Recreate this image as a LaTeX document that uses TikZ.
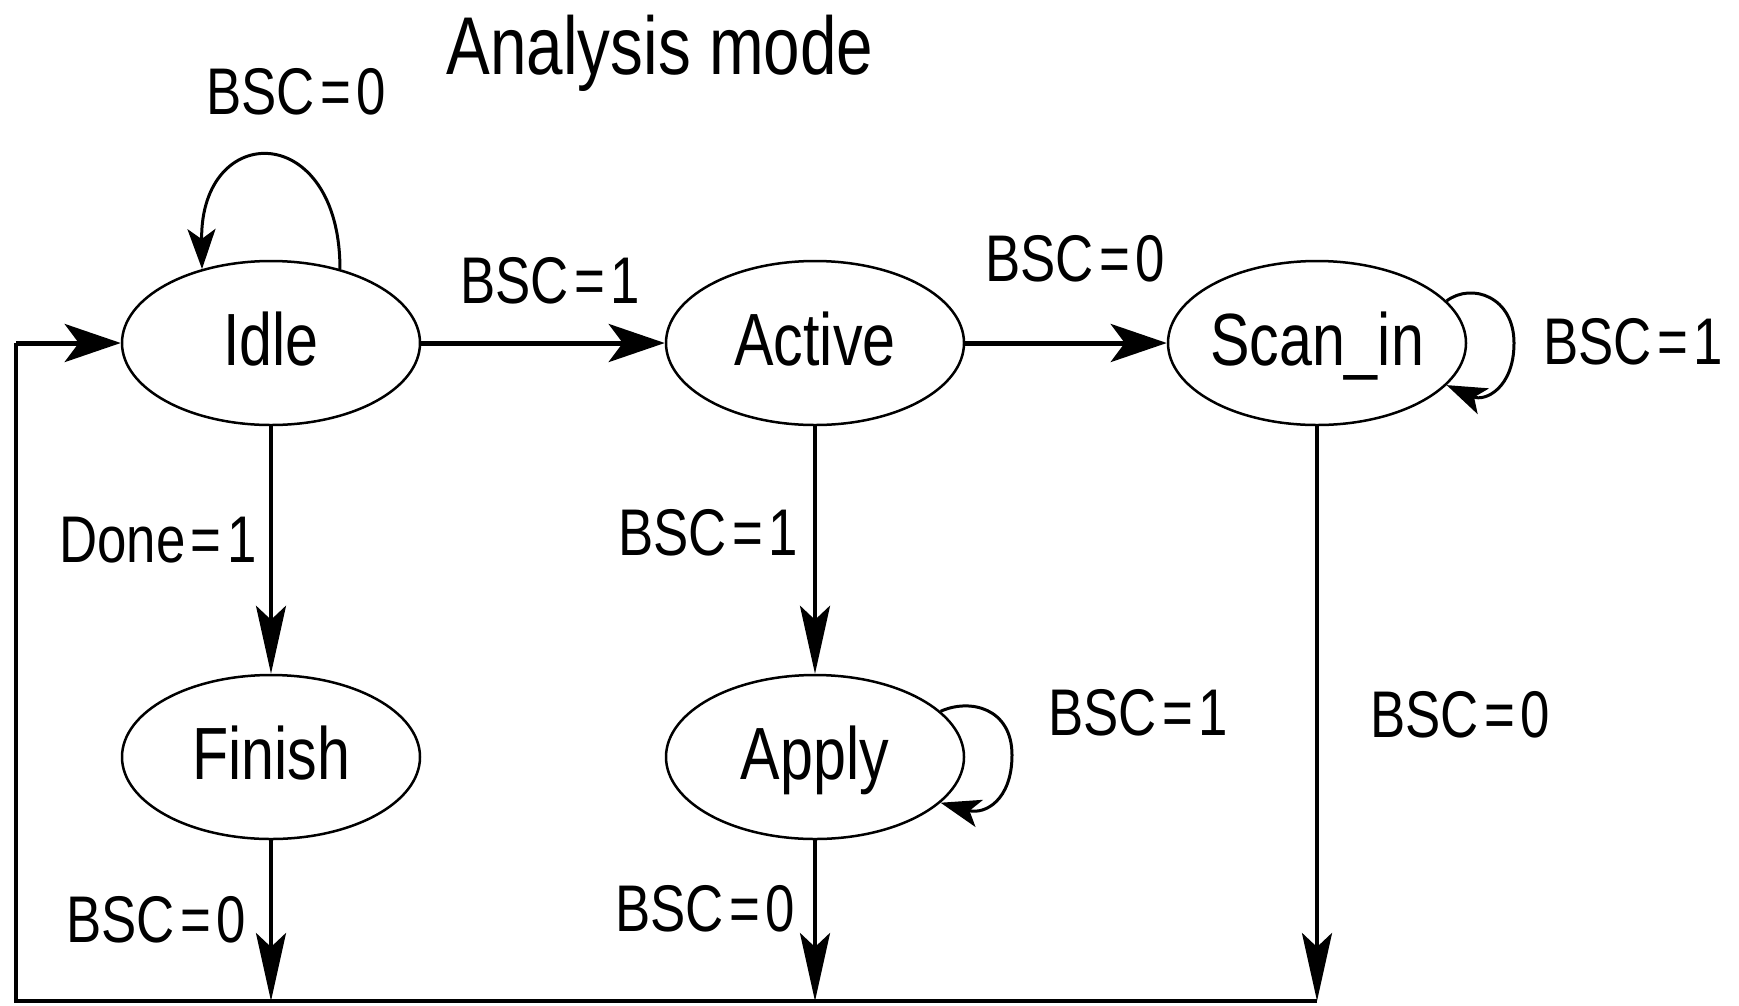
\documentclass[tikz,border=0pt]{standalone}
\usepackage{fontspec}
\setmainfont[FakeStretch=0.8]{Liberation Sans}
\usetikzlibrary{arrows.meta,shapes.geometric}
\newcommand{\zw}[1]{\makebox[0pt]{#1}}
\newcommand{\eq}{\kern5.5pt=\kern5.5pt}
\begin{document}
\begin{tikzpicture}[x=1pt,y=-1pt,
  state/.style={ellipse, draw, line width=2.5pt, minimum width=298pt,
    minimum height=164pt, inner sep=0pt, text height=55pt, text depth=11pt,
    font=\fontsize{74}{80}\selectfont},
  cond/.style={inner sep=0pt, font=\fontsize{66}{70}\selectfont},
  heading/.style={inner sep=0pt, font=\fontsize{82}{88}\selectfont},
  harrow/.style={line width=5pt, -{Stealth[length=56pt, width=38pt, inset=14pt]}},
  varrow/.style={line width=4pt, -{Stealth[length=68pt, width=30pt, inset=14pt]}},
  loop arrow/.style={line width=3pt, -{Stealth[length=40pt, width=28pt, inset=10pt]}},
  wire/.style={line width=4pt}
]
\fill[white] (0,0) rectangle (1739,1005);
\useasboundingbox (0,0) rectangle (1739,1005);

% states
\node[state] (idle)   at (271,343) {\zw{Idle}};
\node[state] (active) at (815,343) {\zw{Active}};
\node[state] (scan)   at (1317,343) {\zw{Scan\_in}};
\node[state] (finish) at (271,757) {\zw{Finish}};
\node[state] (apply)  at (815,757) {\zw{Apply}};

% return bus along the bottom and up the left side
\coordinate (bl) at (16,1001);
\coordinate (fb) at (finish.south |- bl);
\coordinate (ab) at (apply.south |- bl);
\coordinate (sb) at (scan.south |- bl);

% title
\node[heading, anchor=base] (title) at (660,74) {Analysis mode};

% transitions
\draw[harrow] (idle) -- (active);
\draw[harrow] (active) -- (scan);
\draw[varrow] (idle) -- (finish);
\draw[varrow] (active) -- (apply);
\draw[varrow] (finish) -- (fb);
\draw[varrow] (apply) -- (ab);
\draw[varrow] (scan) -- (sb);
\draw[wire] (sb) -- (bl) -- (bl |- idle.west);
\draw[harrow] (bl |- idle.west) -- (idle.west);

% self loops
\draw[loop arrow] (idle.47) .. controls (340,120) and (200,120) .. (idle.133);
\draw[loop arrow] (scan.18) .. controls (1472,282) and (1514,297) .. (1514,343)
  .. controls (1514,388) and (1485,402) .. (scan.-18);
\draw[loop arrow] (apply.20) .. controls (970,698) and (1012,708) .. (1012,755)
  .. controls (1012,800) and (985,815) .. (apply.-20);

% conditions
\node[cond] (c1)  at (296,92)   {BSC\eq0};
\node[cond] (c2)  at (550,281)  {BSC\eq1};
\node[cond] (c3)  at (1075,259) {BSC\eq0};
\node[cond] (c4)  at (1633,342) {BSC\eq1};
\node[cond] (c5)  at (158,540)  {Done\eq1};
\node[cond] (c6)  at (708,533)  {BSC\eq1};
\node[cond] (c7)  at (1138,713) {BSC\eq1};
\node[cond] (c8)  at (1460,715) {BSC\eq0};
\node[cond] (c9)  at (156,920)  {BSC\eq0};
\node[cond] (c10) at (705,909)  {BSC\eq0};
\end{tikzpicture}
\end{document}
